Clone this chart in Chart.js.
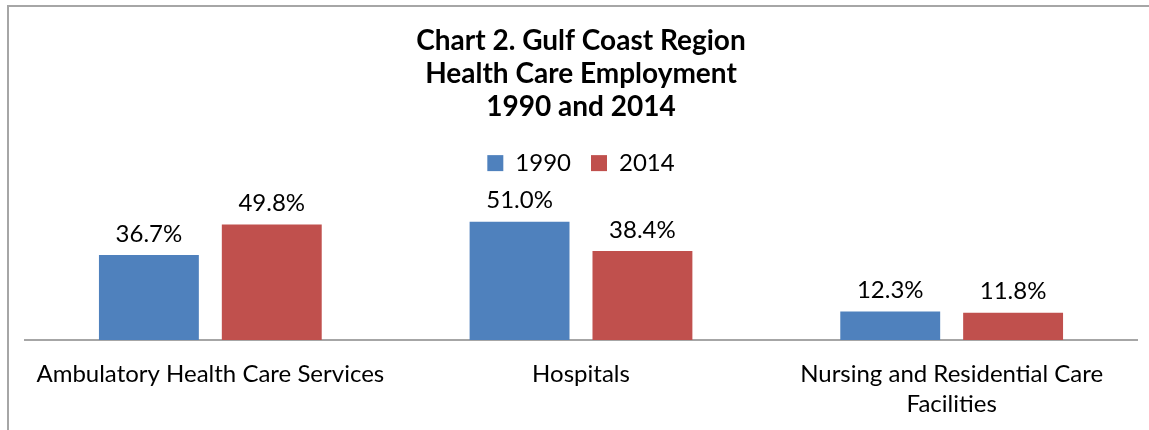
<!DOCTYPE html>
<html>
<head>
<meta charset="utf-8">
<script src="https://cdn.jsdelivr.net/npm/chart.js@4/dist/chart.umd.min.js"></script>
<style>
  body { margin: 0; background: #fff; }
  #wrap { position: relative; width: 1149px; height: 430px; overflow: hidden; }
  #frame { position: absolute; left: 7px; top: 5px; width: 1200px; height: 500px;
           border-top: 2px solid #a6a6a6; border-left: 2px solid #a6a6a6; }
  #box { position: absolute; left: 0; top: 0; width: 1149px; height: 430px; }
</style>
</head>
<body>
<div id="wrap">
  <div id="frame"></div>
  <div id="box"><canvas id="graf"></canvas></div>
</div>
<script>
// dados do grafico
const categorias = ["Ambulatory Health Care Services", "Hospitals", ["Nursing and Residential Care", "Facilities"]];
const serie1990 = [36.7, 51.0, 12.3];
const serie2014 = [49.8, 38.4, 11.8];
const titulo = ["Chart 2. Gulf Coast Region", "Health Care Employment", "1990 and 2014"];

const fonte = "Lato, 'Liberation Sans', sans-serif";

// rotulos de valor em cima das barras
const rotulos = {
  id: "rotulos",
  afterDatasetsDraw(chart) {
    const ctx = chart.ctx;
    ctx.save();
    ctx.font = "24px " + fonte;
    ctx.fillStyle = "#000";
    ctx.textAlign = "center";
    ctx.textBaseline = "middle";
    chart.data.datasets.forEach((ds, i) => {
      chart.getDatasetMeta(i).data.forEach((bar, j) => {
        ctx.fillText(ds.data[j].toFixed(1) + "%", bar.x, bar.y - 21);
      });
    });
    ctx.restore();
  }
};

const ctx = document.getElementById("graf");
new Chart(ctx, {
  type: "bar",
  data: {
    labels: categorias,
    datasets: [
      { label: "1990", data: serie1990, backgroundColor: "#4F81BD" },
      { label: "2014", data: serie2014, backgroundColor: "#C0504D" }
    ]
  },
  options: {
    responsive: true,
    maintainAspectRatio: false,
    animation: false,
    layout: { padding: { left: 25, right: 12, top: 0, bottom: 0 } },
    datasets: { bar: { categoryPercentage: 0.663, barPercentage: 0.813 } },
    plugins: {
      tooltip: { enabled: false },
      title: {
        display: true,
        text: titulo,
        color: "#000",
        font: { family: fonte, size: 28, weight: "bold", lineHeight: 1.18 },
        padding: { top: 24, bottom: 8 }
      },
      legend: {
        display: true,
        labels: {
          color: "#000",
          font: { family: fonte, size: 24 },
          boxWidth: 16,
          boxHeight: 16,
          padding: 20
        }
      }
    },
    scales: {
      x: {
        grid: { display: false },
        border: { display: true, color: "#a6a6a6", width: 2 },
        ticks: {
          color: "#000",
          font: { family: fonte, size: 24, lineHeight: 1.25 },
          padding: 11,
          maxRotation: 0,
          autoSkip: false
        }
      },
      y: { display: false, min: 0, max: 66.8 }
    }
  },
  plugins: [rotulos]
});
</script>
</body>
</html>
